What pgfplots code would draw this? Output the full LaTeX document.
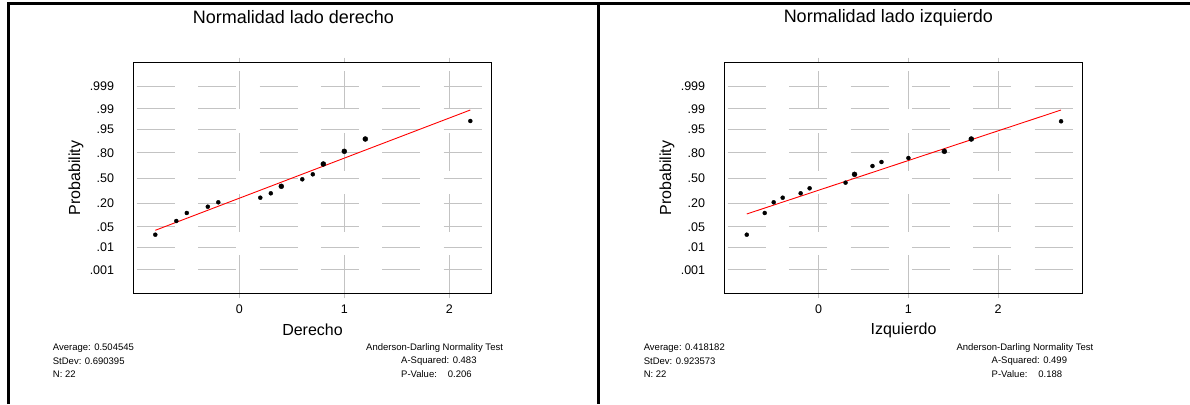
\documentclass[border=0pt]{standalone}
\usepackage{fontspec}
\setmainfont{Liberation Sans}
\usepackage{pgfplots}
\pgfplotsset{compat=1.18}
\definecolor{gridgray}{RGB}{195,195,195}
\pgfplotsset{
  minitab/.style={
    scale only axis, width=358.4pt, height=230.6pt,
    anchor=south west,
    ymin=-3.876, ymax=3.876,
    ytick={-3.0902,-2.3263,-1.6449,-0.8416,0,0.8416,1.6449,2.3263,3.0902},
    yticklabels={.001,.01,.05,.20,.50,.80,.95,.99,.999},
    xtick={0,1,2}, xticklabels={0,1,2},
    grid=major,
    major grid style={draw=gridgray, line width=1pt},
    every axis x grid/.style={dash pattern=on 38pt off 23.4pt},
    every axis y grid/.style={dash pattern=on 38pt off 23.4pt, dash phase=58pt},
    tick align=outside,
    major tick length=5pt,
    xtick style={draw=gridgray, line width=1pt},
    ytick style={draw=none},
    axis line style={line width=1.2pt},
    tick label style={font=\fontsize{12.5}{14}\selectfont},
    yticklabel style={anchor=east, inner sep=0pt, xshift=-14pt},
    xticklabel style={anchor=north, inner sep=0pt, yshift=-6pt},
    every axis x label/.style={at={(rel axis cs:0.5,0)}, anchor=center, yshift=-36.7pt,
      font=\fontsize{16}{18}\selectfont},
    every axis y label/.style={at={(rel axis cs:0,0.5)}, anchor=center, xshift=-57.3pt, rotate=90,
      font=\fontsize{16}{18}\selectfont},
    ylabel={Probability},
  },
  small pts/.style={only marks, mark=*, mark size=2pt, black},
  big pts/.style={only marks, mark=*, mark size=2.5pt, black},
}
\begin{document}
\begin{tikzpicture}
\useasboundingbox (0pt,0pt) rectangle (1190pt,-404pt);
% outer frame
\draw[line width=3pt] (8pt,-404pt) -- (8pt,-3.2pt) -- (1190pt,-3.2pt);
\draw[line width=3pt] (598.3pt,-3.2pt) -- (598.3pt,-404pt);

% ---------- left panel ----------
\begin{axis}[minitab, at={(133.3pt,-293.3pt)}, xmin=-1.0095, xmax=2.4038, xlabel={Derecho}]
\addplot[red, line width=0.9pt] coordinates {(-0.8,-1.758) (2.2,2.286)};
\addplot[small pts] coordinates {
(-0.8,-1.906) (-0.6,-1.445) (-0.5,-1.176) (-0.3,-0.965) (-0.2,-0.817)
(0.2,-0.662) (0.3,-0.514) (0.6,-0.044) (0.7,0.124) (2.2,1.916)};
\addplot[big pts] coordinates {
(0.4,-0.279) (0.8,0.471) (1.0,0.897) (1.2,1.311)};
\end{axis}
\node[font=\fontsize{18}{21}\selectfont] at (293.5pt,-17.5pt) {Normalidad lado derecho};
\begin{scope}[every node/.style={anchor=west, inner sep=0pt, font=\fontsize{9.5}{11}\selectfont}]
\node at (52.7pt,-347.7pt) {Average: 0.504545};
\node at (52.7pt,-361.2pt) {StDev: 0.690395};
\node at (52.7pt,-373.7pt) {N: 22};
\node at (366pt,-347.7pt) {Anderson-Darling Normality Test};
\node at (401pt,-361.2pt) {A-Squared: 0.483};
\node at (401pt,-373.7pt) {P-Value:\hspace{11pt}0.206};
\end{scope}

% ---------- right panel ----------
\begin{axis}[minitab, at={(724.3pt,-293.3pt)}, xmin=-1.050, xmax=2.941, xlabel={Izquierdo}]
\addplot[red, line width=0.9pt] coordinates {(-0.8,-1.21) (2.7,2.286)};
\addplot[small pts] coordinates {
(-0.8,-1.906) (-0.6,-1.176) (-0.5,-0.817) (-0.4,-0.662) (-0.2,-0.514)
(-0.1,-0.346) (0.3,-0.157) (0.6,0.403) (0.7,0.538) (1.0,0.672) (2.7,1.906)};
\addplot[big pts] coordinates {
(0.4,0.124) (1.4,0.897) (1.7,1.311)};
\end{axis}
\node[font=\fontsize{18}{21}\selectfont] at (888.3pt,-17.5pt) {Normalidad lado izquierdo};
\begin{scope}[every node/.style={anchor=west, inner sep=0pt, font=\fontsize{9.5}{11}\selectfont}]
\node at (643.6pt,-347.7pt) {Average: 0.418182};
\node at (643.6pt,-361.2pt) {StDev: 0.923573};
\node at (643.6pt,-373.7pt) {N: 22};
\node at (956.3pt,-347.7pt) {Anderson-Darling Normality Test};
\node at (991.5pt,-361.2pt) {A-Squared: 0.499};
\node at (991.5pt,-373.7pt) {P-Value:\hspace{11pt}0.188};
\end{scope}
\end{tikzpicture}
\end{document}
